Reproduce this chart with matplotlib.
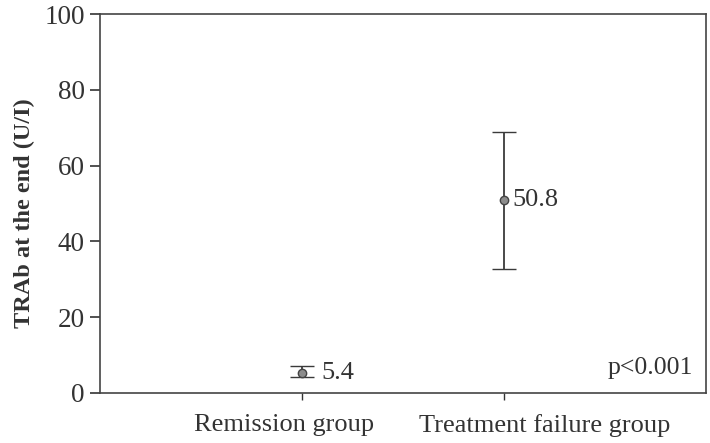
import matplotlib
matplotlib.use("Agg")
import matplotlib.pyplot as plt
from matplotlib.transforms import ScaledTranslation

# Group means with 95% confidence limits (TRAb, U/I)
groups = ["Remission group", "Treatment failure group"]
means = [5.4, 50.8]
ci_low = [4.2, 32.8]
ci_high = [7.1, 68.9]
y_ticks = [0, 20, 40, 60, 80, 100]
p_text = "p<0.001"

plt.rcParams["font.family"] = ["Liberation Serif", "DejaVu Serif"]
ink = "#333333"

fig = plt.figure(figsize=(7.10, 4.43), dpi=100)
ax = fig.add_axes([100 / 710, 1 - 393 / 443, 606 / 710, 379 / 443])

xs = list(range(1, len(groups) + 1))
lower_err = [m - lo for m, lo in zip(means, ci_low)]
upper_err = [hi - m for m, hi in zip(means, ci_high)]
ax.errorbar(xs, means, yerr=[lower_err, upper_err], fmt="o", color=ink,
            ecolor="#3a3a3a", elinewidth=1.3, capsize=8.5, capthick=1.3,
            markersize=6.0, markerfacecolor="#8c8c8c", markeredgecolor="#444444",
            markeredgewidth=1.0, zorder=3)

for x, m, hi in zip(xs, means, ci_high):
    ax.annotate(f"{m:g}", xy=(x, m), xytext=(6 if hi - m > 5 else 14, 0),
                textcoords="offset points", ha="left", va="center",
                fontsize=19, color=ink)

ax.text(0.978, 0.037, p_text, transform=ax.transAxes, ha="right", va="bottom",
        fontsize=18.5, color=ink)

ax.set_xlim(0, len(groups) + 1)
ax.set_ylim(0, 100)
ax.set_xticks(xs)
ax.set_xticklabels(groups, fontsize=19, color=ink)
ax.set_yticks(y_ticks)
ax.set_yticklabels([str(v) for v in y_ticks], fontsize=19.5, color=ink)
ax.tick_params(axis="y", length=7, width=1.2, color=ink, pad=4)
ax.tick_params(axis="x", length=5, width=1.0, color=ink, pad=10)

# category labels sit slightly off their ticks so the long names don't collide
label_shift_px = [-18, 41]
for lab, dx in zip(ax.get_xticklabels(), label_shift_px):
    lab.set_transform(lab.get_transform() + ScaledTranslation(dx / 100, 0, fig.dpi_scale_trans))

ax.set_ylabel("TRAb at the end (U/I)", fontsize=17.5, fontweight="bold", color=ink)
ax.yaxis.set_label_coords(-0.1073, 0.475)
for s in ax.spines.values():
    s.set_color("#444444")
    s.set_linewidth(1.2)

fig.savefig("out.png", dpi=100, facecolor="white")
